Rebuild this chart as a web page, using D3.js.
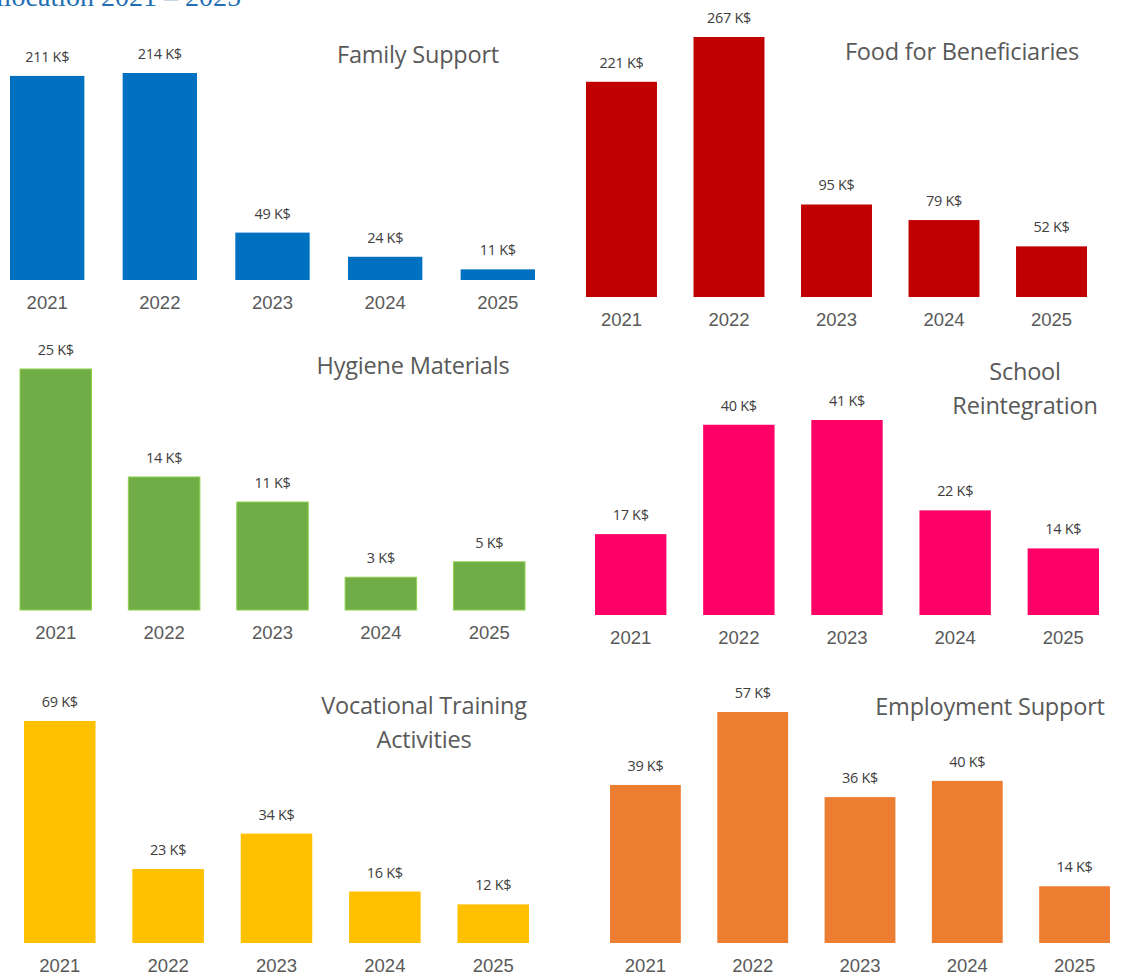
<!DOCTYPE html>
<html>
<head>
<meta charset="utf-8">
<script src="https://cdn.jsdelivr.net/npm/d3@7"></script>
<style>
  body { margin: 0; background: #fff; }
  svg { display: block; }
</style>
</head>
<body>
<svg width="1121" height="975"></svg>
<script>
// data, values in K$
var years = ["2021", "2022", "2023", "2024", "2025"];
var familySupport = [211, 214, 49, 24, 11];
var foodBeneficiaries = [221, 267, 95, 79, 52];
var hygieneMaterials = [25, 13.8, 11.2, 3.4, 5];
var schoolReintegration = [17, 40, 41, 22, 14];
var vocationalTraining = [69, 23, 34, 16, 12];
var employmentSupport = [39, 57, 36, 40, 14];

var svg = d3.select("svg");

svg.append("text")
	.attr("x", 241)
	.attr("y", 6)
	.attr("text-anchor", "end")
	.style("font-family", "'Liberation Serif', 'DejaVu Serif', serif")
	.style("font-size", "28px")
	.style("fill", "#1f6fb5")
	.text("Budget Allocation 2021 \u2013 2025");

// one entry per panel: values + where it sits on the page
var panels = [
	{values: familySupport, title: ["Family Support"], color: "#0070c0",
		x0: 10, x1: 535, base: 280, top: 73, tx: 418, ty: 55},
	{values: foodBeneficiaries, title: ["Food for Beneficiaries"], color: "#c00000",
		x0: 586, x1: 1087, base: 297, top: 37, tx: 962, ty: 52},
	{values: hygieneMaterials, title: ["Hygiene Materials"], color: "#70ad47", stroke: "#92d050",
		x0: 20, x1: 525, base: 610, top: 369, tx: 413, ty: 366},
	{values: schoolReintegration, title: ["School", "Reintegration"], color: "#ff0066",
		x0: 595, x1: 1099, base: 615, top: 420, tx: 1025, ty: 372},
	{values: vocationalTraining, title: ["Vocational Training", "Activities"], color: "#ffc000",
		x0: 24, x1: 529, base: 943, top: 721, tx: 424, ty: 706},
	{values: employmentSupport, title: ["Employment Support"], color: "#ed7d31",
		x0: 610, x1: 1110, base: 943, top: 712, tx: 990, ty: 707}
];

panels.forEach(function(p) {
	var g = svg.append("g");

	var x = d3.scaleBand()
		.domain(years)
		.range([p.x0, p.x1])
		.paddingInner(0.34)
		.paddingOuter(0);

	var y = d3.scaleLinear()
		.domain([0, d3.max(p.values)])
		.range([p.base, p.top]);

	var rows = years.map(function(yr, i) { return {year: yr, value: p.values[i]}; });

	g.selectAll("rect")
		.data(rows)
		.enter()
		.append("rect")
		.attr("x", function(d) { return x(d.year); })
		.attr("y", function(d) { return y(d.value); })
		.attr("width", x.bandwidth())
		.attr("height", function(d) { return p.base - y(d.value); })
		.style("fill", p.color)
		.style("stroke", p.stroke || "none")
		.style("stroke-width", 1);

	g.selectAll(".val")
		.data(rows)
		.enter()
		.append("text")
		.attr("class", "val")
		.attr("x", function(d) { return x(d.year) + x.bandwidth() / 2; })
		.attr("y", function(d) { return y(d.value) - 14; })
		.attr("text-anchor", "middle")
		.style("font-family", "'Open Sans', 'Noto Sans', sans-serif")
		.style("font-size", "14.5px")
		.style("letter-spacing", "-0.3px")
		.style("fill", "#404040")
		.text(function(d) { return Math.round(d.value) + " K$"; });

	// year axis, no line or ticks
	var axis = g.append("g")
		.attr("transform", "translate(0," + p.base + ")")
		.call(d3.axisBottom(x).tickSize(0).tickPadding(0));
	axis.select(".domain").remove();
	axis.selectAll("text")
		.attr("dy", null)
		.attr("y", 29)
		.style("font-family", "'Liberation Sans', Arial, sans-serif")
		.style("font-size", "18.5px")
		.style("fill", "#595959");

	g.selectAll(".title")
		.data(p.title)
		.enter()
		.append("text")
		.attr("class", "title")
		.attr("x", p.tx)
		.attr("y", function(d, i) { return p.ty + 8 + i * 34; })
		.attr("text-anchor", "middle")
		.style("font-family", "'Open Sans', 'Noto Sans', sans-serif")
		.style("font-size", "23.5px")
		.style("letter-spacing", "-0.2px")
		.style("fill", "#595959")
		.text(function(d) { return d; });
});
</script>
</body>
</html>
